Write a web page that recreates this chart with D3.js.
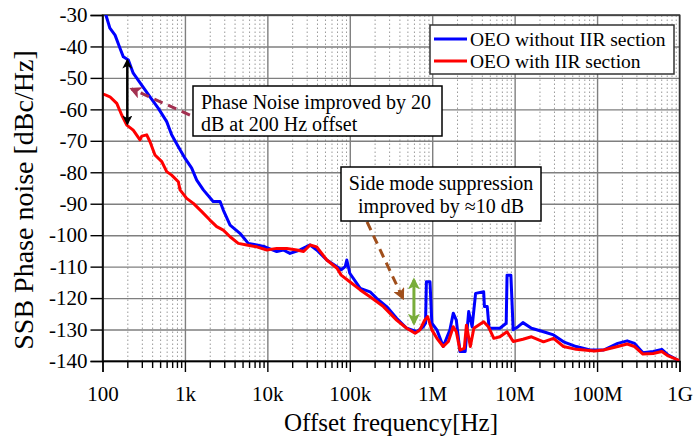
<!DOCTYPE html>
<html>
<head>
<meta charset="utf-8">
<script src="https://cdn.jsdelivr.net/npm/d3@7/dist/d3.min.js"></script>
<style>
  html, body { margin: 0; padding: 0; background: #fff; }
</style>
</head>
<body>
<svg id="chart" width="693" height="438"></svg>
<script>
// values (frequency in Hz, phase noise in dBc/Hz)
const blueFreq = [100, 110, 123, 142, 163, 179, 206, 236, 299, 377, 476, 601, 690, 832, 1005, 1208, 1390, 1673, 2200, 2670, 2920, 3530, 4650, 5870, 7440, 9350, 13000, 15600, 18800, 24900, 33000, 39700, 52600, 70000, 78600, 88000, 92000, 100000, 134000, 176000, 212000, 280000, 370000, 490000, 650000, 780000, 830000, 850000, 940000, 990000, 1140000, 1360000, 1640000, 1800000, 1960000, 2170000, 2510000, 2770000, 3050000, 3360000, 4210000, 4300000, 4650000, 4900000, 5590000, 6620000, 7900000, 8090000, 9000000, 9600000, 11000000, 12600000, 16000000, 22400000, 29600000, 39200000, 55800000, 82000000, 120000000, 178000000, 232000000, 285000000, 360000000, 480000000, 610000000, 730000000, 880000000, 1000000000];
const blueDb = [-26, -30, -34.2, -36.4, -40.6, -43.3, -44.3, -48.5, -52.3, -56, -59.7, -63.9, -68.1, -71.9, -75.6, -78.7, -82.5, -85.6, -89.3, -89.3, -92, -96.8, -99.4, -102.6, -103.1, -103.7, -105.2, -104.7, -105.8, -104.7, -103.1, -104.7, -107.9, -110, -111, -110, -107.9, -112.1, -116.9, -118, -120.1, -122.7, -126.4, -129.6, -130.7, -129.1, -128, -114.8, -114.8, -128, -130.1, -135.4, -130.1, -124.8, -127, -137, -137, -124.3, -129.1, -118.5, -118, -122.7, -122.7, -129.6, -129.6, -129.6, -128, -112.7, -112.7, -130.1, -129.1, -127.8, -129.6, -130.7, -131.7, -133.9, -135.4, -136.5, -136.5, -134.4, -133.6, -134.4, -137.4, -137, -136.3, -138.1, -139.2, -140.2];

const redFreq = [100, 110, 123, 149, 171, 197, 236, 285, 300, 344, 377, 433, 524, 601, 690, 832, 872, 1050, 1266, 1600, 2010, 2430, 2920, 3530, 4440, 5620, 7440, 9870, 13000, 17200, 22800, 27500, 33000, 39700, 52600, 70000, 78600, 100000, 134000, 176000, 256000, 370000, 490000, 620000, 710000, 810000, 880000, 990000, 1140000, 1360000, 1570000, 1800000, 1960000, 2170000, 2450000, 2600000, 2900000, 3200000, 4210000, 4800000, 5590000, 6620000, 8090000, 9600000, 12600000, 16000000, 22400000, 29600000, 39200000, 55800000, 93000000, 120000000, 178000000, 232000000, 285000000, 360000000, 480000000, 610000000, 730000000, 970000000, 1000000000];
const redDb = [-55.1, -55.5, -56, -58.1, -61.8, -65, -66.6, -69.7, -68.5, -68.1, -70.3, -74.5, -76.6, -79.8, -80.9, -83, -85.6, -88.3, -89.9, -92.5, -95.2, -97.3, -98.4, -100.5, -102.6, -103.1, -103.7, -104.7, -104.2, -104.2, -104.7, -105.2, -103.1, -103.7, -107.9, -110.5, -112.7, -114.8, -117.4, -119.6, -122.7, -127, -129.6, -131.2, -130.1, -127, -125.9, -130.1, -132.8, -135.4, -133.8, -129.1, -130.7, -136.5, -136, -128.6, -135.4, -129.6, -127.5, -129.1, -132.8, -132.3, -130.7, -133.8, -133.1, -132.3, -133.9, -132.8, -135.4, -136.3, -136.8, -136.5, -135.4, -134.6, -135.4, -137.8, -137.6, -137, -138.4, -139.7, -140.5];

const seriesNames = ['OEO without IIR section', 'OEO with IIR section'];
const seriesColors = ['#0000ff', '#ff0000'];

const xTickValues = [1e2, 1e3, 1e4, 1e5, 1e6, 1e7, 1e8, 1e9];
const xTickLabels = ['100', '1k', '10k', '100k', '1M', '10M', '100M', '1G'];
const yTickValues = [-30, -40, -50, -60, -70, -80, -90, -100, -110, -120, -130, -140];

const FONT = '"Liberation Serif", "Times New Roman", serif';

const margin = { top: 15, right: 13.5, bottom: 77, left: 102.5 };
const width = 693 - margin.left - margin.right;
const height = 438 - margin.top - margin.bottom;

const svg = d3.select('#chart');
const g = svg.append('g').attr('transform', `translate(${margin.left},${margin.top})`);

const x = d3.scaleLog().domain([1e2, 1e9]).range([0, width]);
const y = d3.scaleLinear().domain([-140, -30]).range([height, 0]);

// minor ticks 2..9 of each decade
const minorTicks = [];
for (let d = 2; d < 9; d++) {
  for (let k = 2; k <= 9; k++) minorTicks.push(k * Math.pow(10, d));
}

g.append('defs').append('clipPath').attr('id', 'plotclip')
  .append('rect').attr('x', 0).attr('y', 0).attr('width', width).attr('height', height);

// grid
g.append('g')
  .attr('class', 'grid-minor')
  .attr('transform', `translate(0,${height})`)
  .call(d3.axisBottom(x).tickValues(minorTicks).tickSize(-height).tickFormat(''))
  .call((s) => s.select('.domain').remove());

g.append('g')
  .attr('class', 'grid-major')
  .attr('transform', `translate(0,${height})`)
  .call(d3.axisBottom(x).tickValues(xTickValues).tickSize(-height).tickFormat(''))
  .call((s) => s.select('.domain').remove());

g.append('g')
  .attr('class', 'grid-major')
  .call(d3.axisLeft(y).tickValues(yTickValues).tickSize(-width).tickFormat(''))
  .call((s) => s.select('.domain').remove());

// frame
g.append('rect')
  .attr('x', 0).attr('y', 0).attr('width', width).attr('height', height)
  .attr('fill', 'none').attr('stroke', '#333').attr('stroke-width', 1.5);

// curves
const line = d3.line()
  .x((d) => x(d[0]))
  .y((d) => y(d[1]));

const series = [
  d3.zip(blueFreq, blueDb),
  d3.zip(redFreq, redDb)
];

g.append('g').attr('clip-path', 'url(#plotclip)')
  .selectAll('path')
  .data(series)
  .enter().append('path')
  .attr('d', line)
  .attr('fill', 'none')
  .attr('stroke', (d, i) => seriesColors[i])
  .attr('stroke-width', 3)
  .attr('stroke-linejoin', 'round');

// axes
g.append('g')
  .attr('class', 'axis')
  .attr('transform', `translate(0,${height})`)
  .call(d3.axisBottom(x).tickValues(xTickValues).tickSize(11).tickPadding(14)
    .tickFormat((d, i) => xTickLabels[i]));

g.append('g')
  .attr('class', 'axis')
  .attr('transform', `translate(0,${height})`)
  .call(d3.axisBottom(x).tickValues(minorTicks).tickSize(7).tickFormat(''))
  .call((s) => s.select('.domain').remove());

g.append('g')
  .attr('class', 'axis')
  .call(d3.axisLeft(y).tickValues(yTickValues).tickSize(12).tickPadding(3)
    .tickFormat((d) => d));

g.selectAll('.axis .domain, .axis .tick line').attr('stroke', '#000').attr('stroke-width', 1.4);
g.selectAll('.axis text').attr('fill', '#000').style('font-size', '21px');
g.selectAll('.grid-major line').attr('stroke', '#7f7f7f').attr('stroke-width', 1.4);
g.selectAll('.grid-minor line')
  .attr('stroke', '#9a9a9a')
  .attr('stroke-width', 1)
  .attr('stroke-dasharray', '1.5,2.5');

// axis titles
svg.append('text')
  .attr('x', margin.left + width / 2)
  .attr('y', 431)
  .attr('text-anchor', 'middle')
  .style('font-size', '25px')
  .text('Offset frequency[Hz]');

svg.append('text')
  .attr('transform', 'translate(33,200) rotate(-90)')
  .attr('text-anchor', 'middle')
  .style('font-size', '28px')
  .text('SSB Phase noise [dBc/Hz]');

// legend
const legend = svg.append('g').attr('transform', 'translate(430,25)');
legend.append('rect')
  .attr('width', 244).attr('height', 49)
  .attr('fill', '#fff').attr('stroke', '#333').attr('stroke-width', 1.5);
seriesNames.forEach((name, i) => {
  legend.append('line')
    .attr('x1', 4).attr('x2', 37)
    .attr('y1', 14 + i * 22).attr('y2', 14 + i * 22)
    .attr('stroke', seriesColors[i]).attr('stroke-width', 3);
  legend.append('text')
    .attr('x', 40).attr('y', 21 + i * 22)
    .style('font-size', '19.5px')
    .text(name);
});

// annotations
const defs = svg.append('defs');
function marker(id, color) {
  defs.append('marker')
    .attr('id', id)
    .attr('viewBox', '0 0 10 10')
    .attr('refX', 8).attr('refY', 5)
    .attr('markerWidth', 4).attr('markerHeight', 4)
    .attr('orient', 'auto-start-reverse')
    .append('path')
    .attr('d', 'M0,0 L10,5 L0,10 L2.5,5 Z')
    .attr('fill', color);
}
marker('arrBlack', '#000');
marker('arrMaroon', '#a33050');
marker('arrBrown', '#a04f1c');
marker('arrGreen', '#79ad3a');

const ann = g.append('g');

// 20 dB improvement at 200 Hz
ann.append('line')
  .attr('x1', x(200)).attr('x2', x(200))
  .attr('y1', y(-44.5)).attr('y2', y(-64.5))
  .attr('stroke', '#000').attr('stroke-width', 2.5)
  .attr('marker-start', 'url(#arrBlack)').attr('marker-end', 'url(#arrBlack)');

ann.append('line')
  .attr('x1', x(1150)).attr('y1', y(-61.8))
  .attr('x2', x(225)).attr('y2', y(-53.5))
  .attr('stroke', '#a33050').attr('stroke-width', 3)
  .attr('stroke-dasharray', '9,6')
  .attr('marker-end', 'url(#arrMaroon)');

// side mode suppression
ann.append('line')
  .attr('x1', x(162000)).attr('y1', y(-95.8))
  .attr('x2', x(440000)).attr('y2', y(-120))
  .attr('stroke', '#a04f1c').attr('stroke-width', 3)
  .attr('stroke-dasharray', '9,6')
  .attr('marker-end', 'url(#arrBrown)');

ann.append('line')
  .attr('x1', x(600000)).attr('x2', x(600000))
  .attr('y1', y(-114.2)).attr('y2', y(-128))
  .attr('stroke', '#79ad3a').attr('stroke-width', 3)
  .attr('marker-start', 'url(#arrGreen)').attr('marker-end', 'url(#arrGreen)');

const box1 = svg.append('g').attr('transform', 'translate(193,86)');
box1.append('rect').attr('width', 249).attr('height', 50)
  .attr('fill', '#fff').attr('stroke', '#000').attr('stroke-width', 1.5);
box1.append('text').attr('x', 8).attr('y', 22.5).style('font-size', '20px')
  .text('Phase Noise improved by 20');
box1.append('text').attr('x', 8).attr('y', 45).style('font-size', '20px')
  .text('dB at 200 Hz offset');

const box2 = svg.append('g').attr('transform', 'translate(341,167)');
box2.append('rect').attr('width', 200).attr('height', 54)
  .attr('fill', '#fff').attr('stroke', '#000').attr('stroke-width', 1.5);
box2.append('text').attr('x', 100).attr('y', 23).attr('text-anchor', 'middle')
  .style('font-size', '20px').text('Side mode suppression');
box2.append('text').attr('x', 100).attr('y', 46).attr('text-anchor', 'middle')
  .style('font-size', '20px').text('improved by \u224810 dB');

svg.selectAll('text').style('font-family', FONT).attr('fill', '#000');
</script>
</body>
</html>
